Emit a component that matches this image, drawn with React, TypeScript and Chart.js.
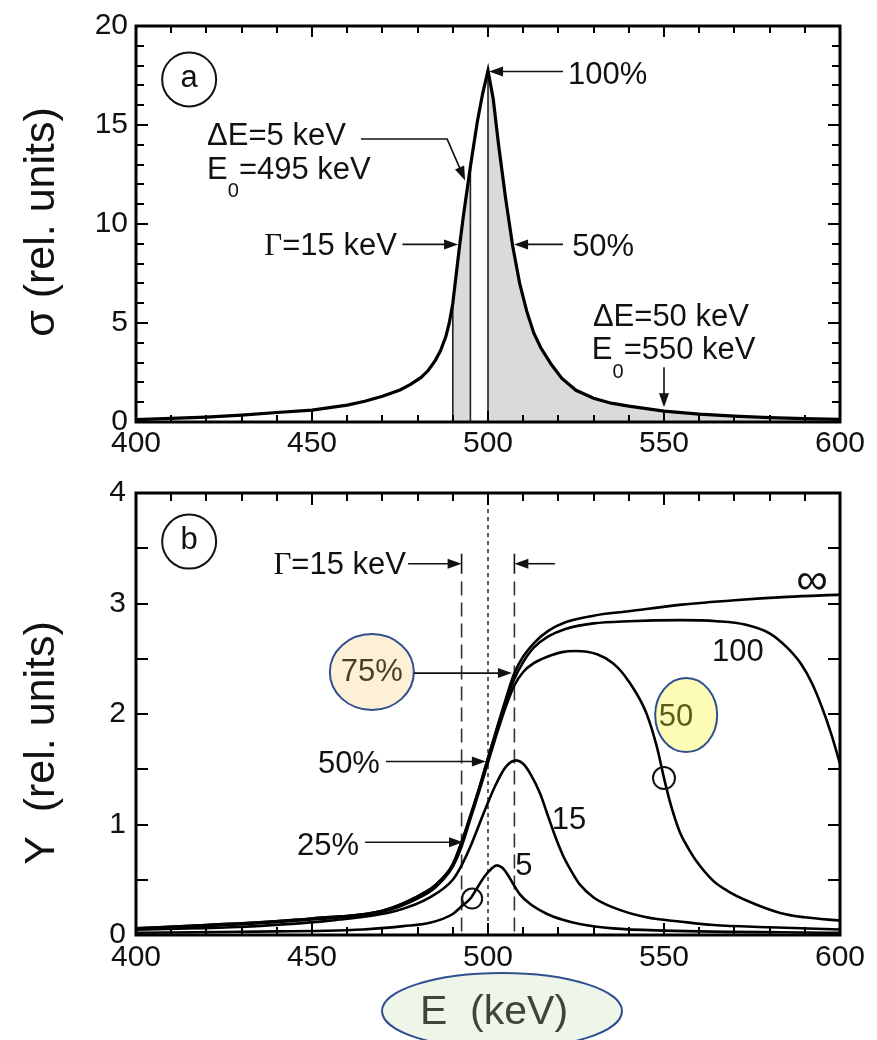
import React, { useEffect, useRef } from 'react';
import { Chart, registerables } from 'chart.js';
Chart.register(...registerables);

const SANS = "'Liberation Sans', Arial, Helvetica, sans-serif";
const SERIF = "'Liberation Serif', 'Times New Roman', serif";

// ---------- Panel (a): cross-section sigma(E) ----------
const sigmaEnergy = [400, 410, 420, 430, 440, 450, 460, 465, 470, 475, 478, 481, 483, 485, 486.5, 488, 489, 490, 491, 492, 493, 495, 497, 498.5, 500, 501.5, 503, 505, 507, 509, 511, 513, 515, 518, 521, 525, 530, 535, 540, 550, 560, 570, 580, 590, 600];
const sigmaValue = [0.12, 0.18, 0.25, 0.35, 0.48, 0.6, 0.85, 1.05, 1.3, 1.62, 1.9, 2.25, 2.6, 3.1, 3.6, 4.3, 5.0, 6.0, 7.5, 9.0, 10.4, 12.9, 15.2, 16.6, 17.75, 16.3, 14.0, 11.3, 8.9, 7.0, 5.6, 4.5, 3.75, 2.9, 2.2, 1.6, 1.2, 0.95, 0.8, 0.55, 0.4, 0.3, 0.22, 0.17, 0.13];
const shadedBands = [[490, 495], [500, 600]];
const bandEdges = [490, 495, 500];

// ---------- Panel (b): yield curves Y(E) for target thickness ----------
const yInfE = [400, 420, 450, 470, 480, 485, 490, 492.5, 495, 497.5, 500, 502.5, 505, 507.5, 510, 513, 517, 522, 530, 540, 555, 570, 585, 600];
const yInfV = [0.06, 0.09, 0.15, 0.22, 0.35, 0.45, 0.64, 0.84, 1.08, 1.33, 1.6, 1.87, 2.13, 2.37, 2.52, 2.64, 2.75, 2.83, 2.89, 2.93, 2.99, 3.03, 3.06, 3.08];
const y100E = [400, 420, 450, 470, 480, 485, 490, 492.5, 495, 497.5, 500, 502.5, 505, 507.5, 510, 513, 517, 522, 530, 540, 555, 565, 573, 580, 585, 589, 592, 595, 597.5, 600];
const y100V = [0.06, 0.09, 0.15, 0.22, 0.35, 0.45, 0.64, 0.84, 1.08, 1.33, 1.6, 1.86, 2.11, 2.32, 2.47, 2.6, 2.7, 2.77, 2.82, 2.84, 2.85, 2.84, 2.81, 2.73, 2.6, 2.45, 2.28, 2.05, 1.82, 1.55];
const y50E = [400, 420, 450, 470, 480, 485, 490, 492.5, 495, 497.5, 500, 502.5, 505, 507.5, 510, 513, 517, 521, 525, 531, 535.5, 538, 540.3, 543, 545.2, 548, 550, 552, 554.5, 557, 559.4, 564, 568, 573.6, 583, 590, 600];
const y50V = [0.05, 0.08, 0.14, 0.21, 0.33, 0.43, 0.62, 0.8, 1.05, 1.3, 1.56, 1.82, 2.06, 2.26, 2.38, 2.46, 2.52, 2.56, 2.57, 2.54, 2.46, 2.38, 2.28, 2.14, 1.99, 1.7, 1.42, 1.17, 0.93, 0.78, 0.66, 0.49, 0.4, 0.31, 0.2, 0.16, 0.13];
const y15E = [400, 427, 455, 474, 483.5, 490, 492.5, 495, 497.5, 500, 502.5, 505, 508, 510, 512, 514.8, 516.8, 519, 521.3, 524, 526, 530, 535.5, 545, 555, 564, 580, 600];
const y15V = [0.05, 0.07, 0.13, 0.22, 0.34, 0.5, 0.63, 0.8, 1.0, 1.2, 1.38, 1.52, 1.58, 1.55, 1.46, 1.28, 1.1, 0.9, 0.72, 0.56, 0.46, 0.34, 0.25, 0.16, 0.12, 0.09, 0.07, 0.05];
const y5E = [400, 430, 464.5, 476, 483.5, 490, 492.5, 495, 497, 499, 501, 502.5, 504, 505.5, 507, 509, 512, 516.8, 521, 526, 535.5, 550, 600];
const y5V = [0.02, 0.03, 0.05, 0.08, 0.11, 0.19, 0.26, 0.33, 0.43, 0.53, 0.6, 0.63, 0.61, 0.55, 0.47, 0.37, 0.28, 0.19, 0.14, 0.1, 0.06, 0.04, 0.02];

const energyTicks = { min: 400, max: 600, step: 50 };
const sigmaTicks = { min: 0, max: 20, step: 5 };
const yieldTicks = { min: 0, max: 4, step: 1 };

const W = 877;
const TOP_H = 465;
const BOT_H = 575;

type Run = { t: string; size?: number; family?: string; dy?: number; color?: string };

function drawRuns(ctx: any, runs: Run[], x: number, y: number, align: string) {
  const widths = runs.map((r) => {
    ctx.font = `${r.size ?? 31}px ${r.family ?? SANS}`;
    return ctx.measureText(r.t).width;
  });
  const total = widths.reduce((a, b) => a + b, 0);
  let cx = align === 'left' ? x : align === 'right' ? x - total : x - total / 2;
  ctx.textBaseline = 'alphabetic';
  ctx.textAlign = 'left';
  runs.forEach((r, i) => {
    ctx.font = `${r.size ?? 31}px ${r.family ?? SANS}`;
    ctx.fillStyle = r.color ?? '#111';
    ctx.fillText(r.t, cx, y + (r.dy ?? 0));
    cx += widths[i];
  });
}

function arrow(ctx: any, pts: number[][], head = 14, half = 5) {
  ctx.save();
  ctx.strokeStyle = '#111';
  ctx.fillStyle = '#111';
  ctx.lineWidth = 1.6;
  const n = pts.length;
  const [x1, y1] = pts[n - 2];
  const [x2, y2] = pts[n - 1];
  const ang = Math.atan2(y2 - y1, x2 - x1);
  const c = Math.cos(ang), s = Math.sin(ang);
  ctx.beginPath();
  ctx.moveTo(pts[0][0], pts[0][1]);
  for (let i = 1; i < n - 1; i++) ctx.lineTo(pts[i][0], pts[i][1]);
  ctx.lineTo(x2 - head * c * 0.8, y2 - head * s * 0.8);
  ctx.stroke();
  ctx.beginPath();
  ctx.moveTo(x2, y2);
  ctx.lineTo(x2 - head * c + half * s, y2 - head * s - half * c);
  ctx.lineTo(x2 - head * c - half * s, y2 - head * s + half * c);
  ctx.closePath();
  ctx.fill();
  ctx.restore();
}

function frameAndTicks(chart: any, o: any) {
  const { ctx, chartArea: a, scales } = chart;
  const sx = scales.x, sy = scales.y;
  ctx.save();
  ctx.strokeStyle = '#000';
  ctx.lineWidth = 2;
  const isMajor = (v: number, m: number) => Math.abs(v / m - Math.round(v / m)) < 1e-6;
  ctx.beginPath();
  for (let i = 0; ; i++) {
    const v = sx.min + i * o.xMinor;
    if (v > sx.max + 1e-9) break;
    const px = Math.round(sx.getPixelForValue(v));
    const L = isMajor(v, o.xMajor) ? o.xMajorLen : o.xMinorLen;
    ctx.moveTo(px, a.bottom);
    ctx.lineTo(px, a.bottom - L);
    ctx.moveTo(px, a.top);
    ctx.lineTo(px, a.top + L);
  }
  for (let i = 0; ; i++) {
    const v = sy.min + i * o.yMinor;
    if (v > sy.max + 1e-9) break;
    const py = Math.round(sy.getPixelForValue(v));
    const L = isMajor(v, o.yMajor) ? o.yMajorLen : o.yMinorLen;
    ctx.moveTo(a.left, py);
    ctx.lineTo(a.left + L, py);
    ctx.moveTo(a.right, py);
    ctx.lineTo(a.right - L, py);
  }
  ctx.stroke();
  ctx.lineWidth = 3;
  ctx.strokeRect(a.left, a.top, a.right - a.left, a.bottom - a.top);
  ctx.restore();
}

function circleLabel(ctx: any, x: number, y: number, r: number, t: string) {
  ctx.save();
  ctx.strokeStyle = '#111';
  ctx.lineWidth = 2;
  ctx.beginPath();
  ctx.arc(x, y, r, 0, Math.PI * 2);
  ctx.stroke();
  ctx.fillStyle = '#111';
  ctx.font = `31px ${SANS}`;
  ctx.textAlign = 'center';
  ctx.textBaseline = 'middle';
  ctx.fillText(t, x, y - 1);
  ctx.restore();
}

function rotatedTitle(ctx: any, t: string, x: number, y: number) {
  ctx.save();
  ctx.translate(x, y);
  ctx.rotate(-Math.PI / 2);
  ctx.font = `43px ${SANS}`;
  ctx.fillStyle = '#111';
  ctx.textAlign = 'center';
  ctx.textBaseline = 'middle';
  ctx.fillText(t, 0, 0);
  ctx.restore();
}

function ellipseLabel(ctx: any, x: number, y: number, rx: number, ry: number, fill: string, t: string, tx: number, ty: number, color: string, size: number) {
  ctx.save();
  ctx.beginPath();
  ctx.ellipse(x, y, rx, ry, 0, 0, Math.PI * 2);
  ctx.fillStyle = fill;
  ctx.fill();
  ctx.strokeStyle = '#2f4f8f';
  ctx.lineWidth = 2;
  ctx.stroke();
  ctx.fillStyle = color;
  ctx.font = `${size}px ${SANS}`;
  ctx.textAlign = 'center';
  ctx.textBaseline = 'middle';
  ctx.fillText(t, tx, ty);
  ctx.restore();
}

const topPlugin = {
  id: 'panelA',
  beforeDatasetsDraw(chart: any) {
    const { ctx, chartArea: a, scales } = chart;
    const sx = scales.x;
    const pts = chart.getDatasetMeta(0).data;
    ctx.save();
    ctx.beginPath();
    ctx.moveTo(pts[0].x, a.bottom);
    pts.forEach((p: any) => ctx.lineTo(p.x, p.y));
    ctx.lineTo(pts[pts.length - 1].x, a.bottom);
    ctx.closePath();
    ctx.clip();
    ctx.fillStyle = '#dadada';
    shadedBands.forEach(([s, e]) => {
      const x0 = sx.getPixelForValue(s);
      const x1 = sx.getPixelForValue(e);
      ctx.fillRect(x0, a.top, x1 - x0, a.bottom - a.top);
    });
    ctx.strokeStyle = '#222';
    ctx.lineWidth = 1.6;
    ctx.beginPath();
    bandEdges.forEach((v) => {
      const px = sx.getPixelForValue(v);
      ctx.moveTo(px, a.top);
      ctx.lineTo(px, a.bottom);
    });
    ctx.stroke();
    ctx.restore();
  },
  afterDraw(chart: any) {
    const { ctx, scales } = chart;
    const X = (v: number) => scales.x.getPixelForValue(v);
    const Y = (v: number) => scales.y.getPixelForValue(v);
    frameAndTicks(chart, { xMinor: 10, xMajor: 50, yMinor: 1, yMajor: 5, xMajorLen: 11, xMinorLen: 7, yMajorLen: 12, yMinorLen: 8 });
    rotatedTitle(ctx, 'σ (rel. units)', 42, 222);
    circleLabel(ctx, X(415.1), Y(17.3), 27, 'a');
    drawRuns(ctx, [{ t: 'ΔE=5 keV' }], X(420.2), Y(13.98), 'left');
    drawRuns(ctx, [{ t: 'E' }, { t: '0', size: 20, dy: 18 }, { t: '=495 keV' }], X(420.2), Y(12.28), 'left');
    arrow(ctx, [[X(463.9), Y(14.29)], [X(488.4), Y(14.29)], [X(493.5), Y(12.2)]]);
    drawRuns(ctx, [{ t: 'Γ', family: SERIF }, { t: '=15 keV' }], X(474.1), Y(8.42), 'right');
    arrow(ctx, [[X(475.7), Y(8.97)], [X(491.5), Y(8.97)]]);
    arrow(ctx, [[X(521.3), Y(17.7)], [X(500.3), Y(17.7)]]);
    drawRuns(ctx, [{ t: '100%' }], X(522.7), Y(17.09), 'left');
    arrow(ctx, [[X(521.3), Y(8.97)], [X(507.4), Y(8.97)]]);
    drawRuns(ctx, [{ t: '50%' }], X(523.9), Y(8.37), 'left');
    drawRuns(ctx, [{ t: 'ΔE=50 keV' }], X(529.8), Y(4.86), 'left');
    drawRuns(ctx, [{ t: 'E' }, { t: '0', size: 20, dy: 19 }, { t: '=550 keV' }], X(529.5), Y(3.16), 'left');
    arrow(ctx, [[X(550), Y(2.76)], [X(550), Y(0.75)]]);
  },
};

const bottomPlugin = {
  id: 'panelB',
  beforeDatasetsDraw(chart: any) {
    const { ctx, chartArea: a, scales } = chart;
    const X = (v: number) => scales.x.getPixelForValue(v);
    const Y = (v: number) => scales.y.getPixelForValue(v);
    ctx.save();
    ctx.strokeStyle = '#333';
    ctx.lineWidth = 1.6;
    ctx.setLineDash([4, 4]);
    ctx.beginPath();
    ctx.moveTo(X(500), a.top);
    ctx.lineTo(X(500), a.bottom);
    ctx.stroke();
    ctx.setLineDash([14, 7]);
    ctx.beginPath();
    [492.5, 507.5].forEach((v) => {
      ctx.moveTo(X(v), Y(3.2));
      ctx.lineTo(X(v), a.bottom);
    });
    ctx.stroke();
    ctx.restore();
  },
  afterDraw(chart: any) {
    const { ctx, scales } = chart;
    const X = (v: number) => scales.x.getPixelForValue(v);
    const Y = (v: number) => scales.y.getPixelForValue(v);
    frameAndTicks(chart, { xMinor: 10, xMajor: 50, yMinor: 0.5, yMajor: 1, xMajorLen: 12, xMinorLen: 8, yMajorLen: 12, yMinorLen: 12 });
    rotatedTitle(ctx, 'Y  (rel. units)', 42, 278);
    circleLabel(ctx, X(415.1), Y(3.56), 27, 'b');
    drawRuns(ctx, [{ t: 'Γ', family: SERIF }, { t: '=15 keV' }], X(476.7), Y(3.27), 'right');
    arrow(ctx, [[X(477.3), Y(3.36)], [X(492.5), Y(3.36)]]);
    arrow(ctx, [[X(519), Y(3.36)], [X(507.5), Y(3.36)]]);
    ctx.save();
    ctx.strokeStyle = '#111';
    ctx.lineWidth = 1.6;
    ctx.beginPath();
    [492.5, 507.5].forEach((v) => {
      ctx.moveTo(X(v), Y(3.27));
      ctx.lineTo(X(v), Y(3.45));
    });
    ctx.stroke();
    ctx.restore();
    ellipseLabel(ctx, X(467.0), Y(2.38), 42, 38, '#fdf0d6', '75%', X(467.0), Y(2.38), '#4a3f2a', 31);
    arrow(ctx, [[X(479), Y(2.37)], [X(506.8), Y(2.37)]]);
    drawRuns(ctx, [{ t: '50%' }], X(469.3), Y(1.47), 'right');
    arrow(ctx, [[X(471), Y(1.57)], [X(499.4), Y(1.57)]]);
    drawRuns(ctx, [{ t: '25%' }], X(463.4), Y(0.72), 'right');
    arrow(ctx, [[X(465.1), Y(0.84)], [X(492.9), Y(0.84)]]);
    ctx.save();
    ctx.strokeStyle = '#111';
    ctx.lineWidth = 2;
    ctx.beginPath();
    ctx.arc(X(495.5), Y(0.33), 10, 0, Math.PI * 2);
    ctx.stroke();
    ctx.beginPath();
    ctx.arc(X(550), Y(1.42), 11, 0, Math.PI * 2);
    ctx.stroke();
    ctx.restore();
    ctx.save();
    ctx.fillStyle = '#111';
    ctx.textAlign = 'center';
    ctx.textBaseline = 'middle';
    ctx.font = `31px ${SANS}`;
    ctx.fillText('5', X(510.2), Y(0.62));
    ctx.fillText('15', X(523), Y(1.04));
    ctx.fillText('100', X(571), Y(2.56));
    ctx.font = `44px ${SANS}`;
    ctx.fillText('∞', X(592), Y(3.2));
    ctx.restore();
    ellipseLabel(ctx, X(556.3), Y(1.99), 31, 37, '#fcfcb6', '50', X(553.4), Y(1.97), '#5b5b1e', 31);
    ellipseLabel(ctx, 502, 546, 120, 38, '#eef5e9', 'E  (keV)', 494, 548, '#3c463c', 41);
  },
};

function axisOpts(range: any, width: number | null, height: number | null, pad: number) {
  return {
    type: 'linear',
    min: range.min,
    max: range.max,
    afterFit: (s: any) => {
      if (width !== null) s.width = width;
      if (height !== null) s.height = height;
    },
    grid: { display: false, drawTicks: false },
    border: { display: false },
    ticks: { stepSize: range.step, padding: pad, color: '#111', font: { family: SANS, size: 30 }, maxRotation: 0, autoSkip: false },
  };
}

function topConfig(): any {
  return {
    type: 'line',
    data: {
      datasets: [
        {
          data: sigmaEnergy.map((e, i) => ({ x: e, y: sigmaValue[i] })),
          borderColor: '#000',
          borderWidth: 3.2,
          pointRadius: 0,
          tension: 0,
          fill: false,
        },
      ],
    },
    options: {
      animation: false,
      responsive: false,
      layout: { padding: { top: 23, right: 37, left: 0, bottom: 0 } },
      plugins: { legend: { display: false }, tooltip: { enabled: false } },
      scales: {
        x: axisOpts(energyTicks, null, TOP_H - 422, 4),
        y: axisOpts(sigmaTicks, 136, null, 8),
      },
    },
    plugins: [topPlugin],
  };
}

function series(e: number[], v: number[]) {
  return {
    data: e.map((x, i) => ({ x, y: v[i] })),
    borderColor: '#000',
    borderWidth: 2.6,
    pointRadius: 0,
    cubicInterpolationMode: 'monotone',
    fill: false,
  };
}

function bottomConfig(): any {
  return {
    type: 'line',
    data: {
      datasets: [series(yInfE, yInfV), series(y100E, y100V), series(y50E, y50V), series(y15E, y15V), series(y5E, y5V)],
    },
    options: {
      animation: false,
      responsive: false,
      layout: { padding: { top: 17, right: 37, left: 0, bottom: 0 } },
      plugins: { legend: { display: false }, tooltip: { enabled: false } },
      scales: {
        x: axisOpts(energyTicks, null, BOT_H - 470, 5),
        y: axisOpts(yieldTicks, 136, null, 10),
      },
    },
    plugins: [bottomPlugin],
  };
}

function Panel({ make, top, height }: { make: () => any; top: number; height: number }) {
  const ref = useRef<HTMLCanvasElement>(null);
  useEffect(() => {
    const chart = new Chart(ref.current as HTMLCanvasElement, make());
    return () => chart.destroy();
  }, []);
  return <canvas ref={ref} width={W} height={height} style={{ position: 'absolute', left: 0, top, width: W, height }} />;
}

export default function App() {
  return (
    <div style={{ position: 'absolute', left: 0, top: 0, width: W, height: 1040, background: '#fff', overflow: 'hidden' }}>
      <Panel make={topConfig} top={0} height={TOP_H} />
      <Panel make={bottomConfig} top={TOP_H} height={BOT_H} />
    </div>
  );
}
